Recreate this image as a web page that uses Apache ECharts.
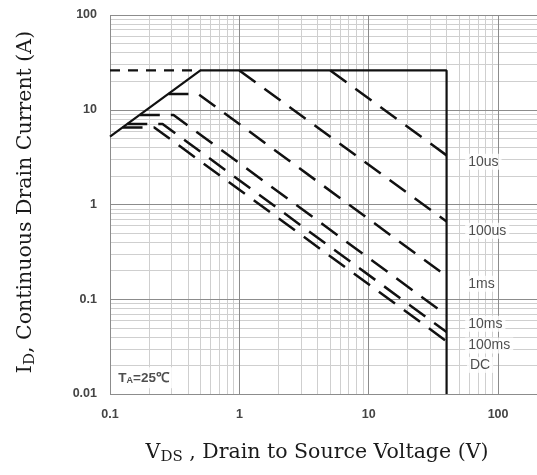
<!DOCTYPE html>
<html>
<head>
<meta charset="utf-8">
<script src="https://cdn.jsdelivr.net/npm/echarts@6/dist/echarts.min.js"></script>
<style>
html,body{margin:0;padding:0;background:#fff;}
#chart{width:537px;height:475px;}
</style>
</head>
<body>
<div id="chart"></div>
<script>
// ---- tick values / labels ----
const xMajor = [0.1, 1, 10, 100];
const xTickLabels = ['0.1', '1', '10', '100'];
const xMinor = [0.2,0.3,0.4,0.5,0.6,0.7,0.8,0.9, 2,3,4,5,6,7,8,9, 20,30,40,50,60,70,80,90];
const yMajor = [0.01, 0.1, 1, 10, 100];
const yTickLabels = ['0.01', '0.1', '1', '10', '100'];
const yMinor = [0.02,0.03,0.04,0.05,0.06,0.07,0.08,0.09, 0.2,0.3,0.4,0.5,0.6,0.7,0.8,0.9,
                2,3,4,5,6,7,8,9, 20,30,40,50,60,70,80,90];

// ---- curves (V, A) ----
const soaBoundary = [[0.1, 5.2], [0.5, 26], [40, 26], [40, 0.01]];
const currentLimit = [[0.1, 26], [0.5, 26]];
const curve10us = [[5.05, 26], [40, 3.3]];
const curve100us = [[1.0, 26], [40, 0.66]];
const curve1ms = [[0.283, 14.7], [0.48, 14.7], [40, 0.175]];
const curve10ms = [[0.17, 8.8], [0.31, 8.8], [40, 0.068]];
const curve100ms = [[0.136, 7.07], [0.255, 7.07], [40, 0.045]];
const curveDC = [[0.125, 6.5], [0.22, 6.5], [40, 0.036]];

// ---- curve labels ----
const curveNames = ['10us', '100us', '1ms', '10ms', '100ms', 'DC'];
const curveLabelX = [55.7, 55.7, 55.7, 55.7, 55.7, 57.5];
const curveLabelY = [2.82, 0.527, 0.1455, 0.055, 0.0325, 0.0203];
const tempLabel = { x: 0.106, y: 0.0148 };

function lookup(v, vals, labels) {
  for (let i = 0; i < vals.length; i++) {
    if (Math.abs(Math.log10(v) - Math.log10(vals[i])) < 1e-6) return labels[i];
  }
  return '';
}

const chart = echarts.init(document.getElementById('chart'), null, {renderer: 'canvas'});

const majorStyle = {color: '#8c8c8c', width: 1, type: 'solid'};
const minorStyle = {color: '#cfcfcf', width: 1, type: 'solid'};

const gridLines = [];
xMinor.forEach(v => gridLines.push({xAxis: v, lineStyle: minorStyle}));
yMinor.forEach(v => gridLines.push({yAxis: v, lineStyle: minorStyle}));
xMajor.forEach(v => gridLines.push({xAxis: v, lineStyle: majorStyle}));
yMajor.forEach(v => gridLines.push({yAxis: v, lineStyle: majorStyle}));

const dashStyle = {color: '#111', width: 2.5, type: [20, 11], cap: 'butt'};

function dashed(data) {
  return {type: 'line', data: data, symbol: 'none', silent: true, z: 3,
          lineStyle: dashStyle, emphasis: {disabled: true}};
}

const labelData = curveNames.map((n, i) => ({name: n, value: [curveLabelX[i], curveLabelY[i]]}));

const serifFont = '"DejaVu Serif", "Liberation Serif", serif';
const sansFont = '"Liberation Sans", Arial, sans-serif';

const titleRich = {
  m: {fontSize: 20.5, fontFamily: serifFont, color: '#1a1a1a', lineHeight: 24},
  s: {fontSize: 15, fontFamily: serifFont, color: '#1a1a1a', lineHeight: 17, verticalAlign: 'bottom'}
};

chart.setOption({
  animation: false,
  backgroundColor: '#fff',
  grid: {left: 110, top: 15, right: 0, bottom: 81, containLabel: false},
  xAxis: {
    type: 'log', logBase: 10, min: 0.1, max: 200,
    axisLine: {show: false}, axisTick: {show: false}, splitLine: {show: false},
    axisLabel: {
      margin: 14, fontSize: 12.5, fontWeight: 'bold', color: '#444', fontFamily: sansFont,
      showMaxLabel: false,
      formatter: v => lookup(v, xMajor, xTickLabels)
    },
    name: '{m|V}{s|DS}{m| , Drain to Source Voltage (V)}',
    nameLocation: 'middle', nameGap: 47,
    nameTextStyle: {fontFamily: serifFont, color: '#1a1a1a', rich: titleRich, padding: [0, 13, 0, 0]}
  },
  yAxis: {
    type: 'log', logBase: 10, min: 0.01, max: 100,
    axisLine: {show: false}, axisTick: {show: false}, splitLine: {show: false},
    axisLabel: {
      margin: 13, fontSize: 12.5, fontWeight: 'bold', color: '#444', fontFamily: sansFont,
      formatter: v => lookup(v, yMajor, yTickLabels)
    },
    name: '{m|I}{s|D}{m|, Continuous Drain Current (A)}',
    nameLocation: 'middle', nameGap: 72, nameRotate: 90,
    nameTextStyle: {fontFamily: serifFont, color: '#1a1a1a', rich: titleRich, padding: [0, 0, 0, 5]}
  },
  series: [
    {
      type: 'line', data: [], symbol: 'none', silent: true, z: 1,
      markLine: {silent: true, z: 1, symbol: ['none', 'none'], label: {show: false},
                 animation: false, data: gridLines}
    },
    {type: 'line', data: soaBoundary, symbol: 'none', silent: true, z: 4,
     lineStyle: {color: '#111', width: 2.2}},
    {type: 'line', data: currentLimit, symbol: 'none', silent: true, z: 3,
     lineStyle: {color: '#111', width: 2.2, type: [10, 8], cap: 'butt'}},
    dashed(curve10us),
    dashed(curve100us),
    dashed(curve1ms),
    dashed(curve10ms),
    dashed(curve100ms),
    dashed(curveDC),
    {
      type: 'scatter', data: labelData, symbolSize: 0, silent: true, z: 6,
      label: {show: true, position: 'right', distance: 0, formatter: '{b}',
              fontSize: 14, color: '#222', fontFamily: sansFont,
              backgroundColor: '#fff', padding: [1, 3]}
    },
    {
      type: 'scatter', data: [{name: 'T', value: [tempLabel.x, tempLabel.y]}],
      symbolSize: 0, silent: true, z: 6,
      label: {show: true, position: 'right', distance: 0,
              formatter: '{b|T}{s|A}{b|=25\u2103}',
              backgroundColor: '#fff', padding: [3, 5],
              rich: {
                b: {fontSize: 13.5, fontWeight: 'bold', color: '#222', fontFamily: sansFont, lineHeight: 15},
                s: {fontSize: 9, fontWeight: 'bold', color: '#222', fontFamily: sansFont, lineHeight: 11, verticalAlign: 'bottom'}
              }}
    }
  ]
});
</script>
</body>
</html>
